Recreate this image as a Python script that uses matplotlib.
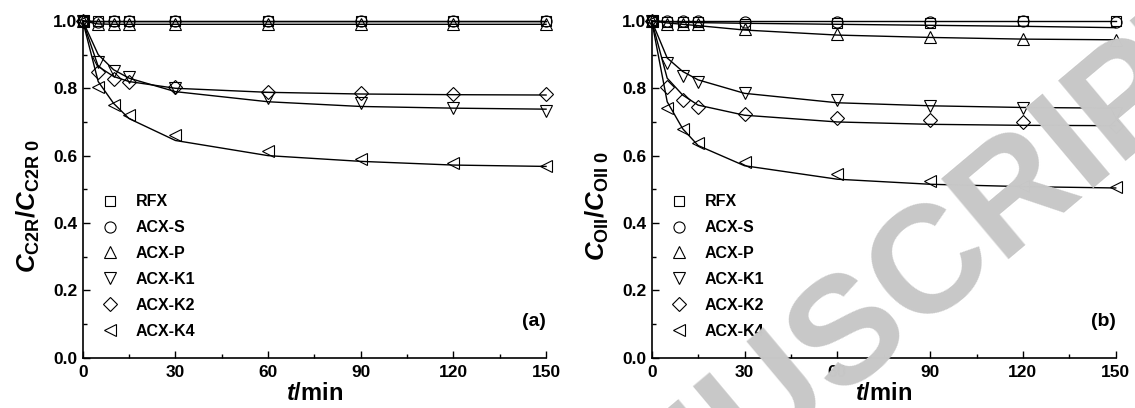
import matplotlib
matplotlib.use('Agg')
from matplotlib import pyplot as plt
from matplotlib.ticker import MultipleLocator, FormatStrFormatter

plt.rcParams['font.family'] = ['Liberation Sans', 'DejaVu Sans']
plt.rcParams['font.weight'] = 'bold'
plt.rcParams['mathtext.fontset'] = 'custom'
plt.rcParams['mathtext.rm'] = 'Liberation Sans:bold'
plt.rcParams['mathtext.it'] = 'Liberation Sans:italic:bold'
plt.rcParams['mathtext.bf'] = 'Liberation Sans:bold'

# sampling times (min)
t = [0, 5, 10, 15, 30, 60, 90, 120, 150]

labels = ['RFX', 'ACX-S', 'ACX-P', 'ACX-K1', 'ACX-K2', 'ACX-K4']
markers = ['s', 'o', '^', 'v', 'D', '<']
msizes = [6.5, 8, 9, 9, 7, 9]

# panel (a): C2R, measured points
a_rfx = [1.0, 1.0, 1.0, 1.0, 1.0, 1.0, 1.0, 1.0, 1.0]
a_acxs = [1.0, 0.998, 1.0, 0.999, 1.0, 1.0, 0.999, 1.0, 1.0]
a_acxp = [1.0, 0.99, 0.99, 0.99, 0.99, 0.99, 0.99, 0.99, 0.99]
a_k1 = [1.0, 0.878, 0.85, 0.834, 0.80, 0.772, 0.755, 0.74, 0.732]
a_k2 = [1.0, 0.849, 0.829, 0.82, 0.805, 0.79, 0.785, 0.782, 0.782]
a_k4 = [1.0, 0.805, 0.75, 0.72, 0.66, 0.615, 0.59, 0.577, 0.57]
# panel (a): fitted curves
a_rfx_fit = [1.0, 1.0, 1.0, 1.0, 1.0, 1.0, 1.0, 1.0, 1.0]
a_acxs_fit = [1.0, 0.998, 0.998, 0.998, 0.998, 0.998, 0.998, 0.998, 0.998]
a_acxp_fit = [1.0, 0.991, 0.99, 0.99, 0.99, 0.99, 0.99, 0.99, 0.99]
a_k1_fit = [1.0, 0.90, 0.855, 0.83, 0.79, 0.76, 0.746, 0.741, 0.738]
a_k2_fit = [1.0, 0.865, 0.835, 0.82, 0.80, 0.788, 0.783, 0.781, 0.78]
a_k4_fit = [1.0, 0.82, 0.755, 0.71, 0.645, 0.60, 0.583, 0.572, 0.568]

# panel (b): OII, measured points
b_rfx = [1.0, 0.998, 0.998, 0.998, 0.992, 0.995, 0.995, 1.0, 1.0]
b_acxs = [1.0, 1.0, 1.0, 1.0, 0.998, 0.998, 0.998, 1.0, 0.998]
b_acxp = [1.0, 0.99, 0.99, 0.99, 0.975, 0.96, 0.952, 0.947, 0.944]
b_k1 = [1.0, 0.876, 0.835, 0.818, 0.785, 0.764, 0.748, 0.741, 0.728]
b_k2 = [1.0, 0.803, 0.766, 0.744, 0.724, 0.711, 0.705, 0.699, 0.687]
b_k4 = [1.0, 0.741, 0.68, 0.639, 0.58, 0.544, 0.526, 0.511, 0.506]
# panel (b): fitted curves
b_rfx_fit = [1.0, 1.0, 1.0, 1.0, 1.0, 1.0, 1.0, 1.0, 1.0]
b_acxs_fit = [1.0, 0.998, 0.996, 0.995, 0.993, 0.99, 0.987, 0.984, 0.98]
b_acxp_fit = [1.0, 0.994, 0.99, 0.986, 0.973, 0.958, 0.951, 0.946, 0.944]
b_k1_fit = [1.0, 0.89, 0.85, 0.825, 0.785, 0.757, 0.748, 0.743, 0.741]
b_k2_fit = [1.0, 0.83, 0.78, 0.75, 0.72, 0.70, 0.693, 0.69, 0.689]
b_k4_fit = [1.0, 0.76, 0.68, 0.63, 0.57, 0.53, 0.515, 0.508, 0.504]


def draw_panel(ax, points, fits, ylabel, tag):
    for fit in fits:
        ax.plot(t, fit, color='black', lw=1.0, clip_on=False, zorder=2)
    for pts, m, ms, lab in zip(points, markers, msizes, labels):
        ax.plot(t, pts, linestyle='none', marker=m, ms=ms, mfc='none',
                mec='black', mew=0.8, label=lab, clip_on=False, zorder=3)

    ax.set_xlim(0, 150)
    ax.set_ylim(0, 1.0)
    ax.set_facecolor('none')
    ax.spines['top'].set_visible(False)
    ax.spines['right'].set_visible(False)
    for s in ('left', 'bottom'):
        ax.spines[s].set_linewidth(1.2)
    ax.xaxis.set_major_locator(MultipleLocator(30))
    ax.xaxis.set_minor_locator(MultipleLocator(15))
    ax.yaxis.set_major_locator(MultipleLocator(0.2))
    ax.yaxis.set_minor_locator(MultipleLocator(0.1))
    ax.yaxis.set_major_formatter(FormatStrFormatter('%.1f'))
    ax.tick_params(which='both', direction='in', width=1.0, labelsize=12.5)
    ax.tick_params(which='major', length=5)
    ax.tick_params(which='minor', length=3)
    ax.tick_params(axis='x', pad=5.5)
    ax.tick_params(axis='y', pad=4)
    for lbl in ax.get_xticklabels() + ax.get_yticklabels():
        lbl.set_fontweight('bold')

    ax.set_xlabel(r'$t$/min', fontsize=17, fontweight='bold', labelpad=1)
    ax.set_ylabel(ylabel, fontsize=18.5)
    ax.yaxis.set_label_coords(-0.088, 0.45)
    ax.text(150, 0.107, tag, fontsize=14, fontweight='bold',
            ha='right', va='center')

    leg = ax.legend(loc='upper left', bbox_to_anchor=(0.024, 0.504),
                    frameon=False, fontsize=11.5, handlelength=1.2,
                    handletextpad=1.0, labelspacing=0.68, borderaxespad=0)
    for txt in leg.get_texts():
        txt.set_fontweight('bold')


fig = plt.figure(figsize=(11.35, 4.08), dpi=100)
ax1 = fig.add_axes([0.0729, 0.1233, 0.4082, 0.8254])
ax2 = fig.add_axes([0.5742, 0.1233, 0.4088, 0.8254])

draw_panel(ax1, [a_rfx, a_acxs, a_acxp, a_k1, a_k2, a_k4],
           [a_rfx_fit, a_acxs_fit, a_acxp_fit, a_k1_fit, a_k2_fit, a_k4_fit],
           r'$C_{\mathrm{C2R}}/C_{\mathrm{C2R\ 0}}$', '(a)')
draw_panel(ax2, [b_rfx, b_acxs, b_acxp, b_k1, b_k2, b_k4],
           [b_rfx_fit, b_acxs_fit, b_acxp_fit, b_k1_fit, b_k2_fit, b_k4_fit],
           r'$C_{\mathrm{OII}}/C_{\mathrm{OII\ 0}}$', '(b)')

# watermark
fig.text(0.75, 0.185, 'MANUSCRIPT', fontsize=110, fontweight='bold',
         color='#c8c8c8', rotation=40, ha='center', va='center',
         rotation_mode='anchor', zorder=10)

fig.savefig('out.png', dpi=100)
